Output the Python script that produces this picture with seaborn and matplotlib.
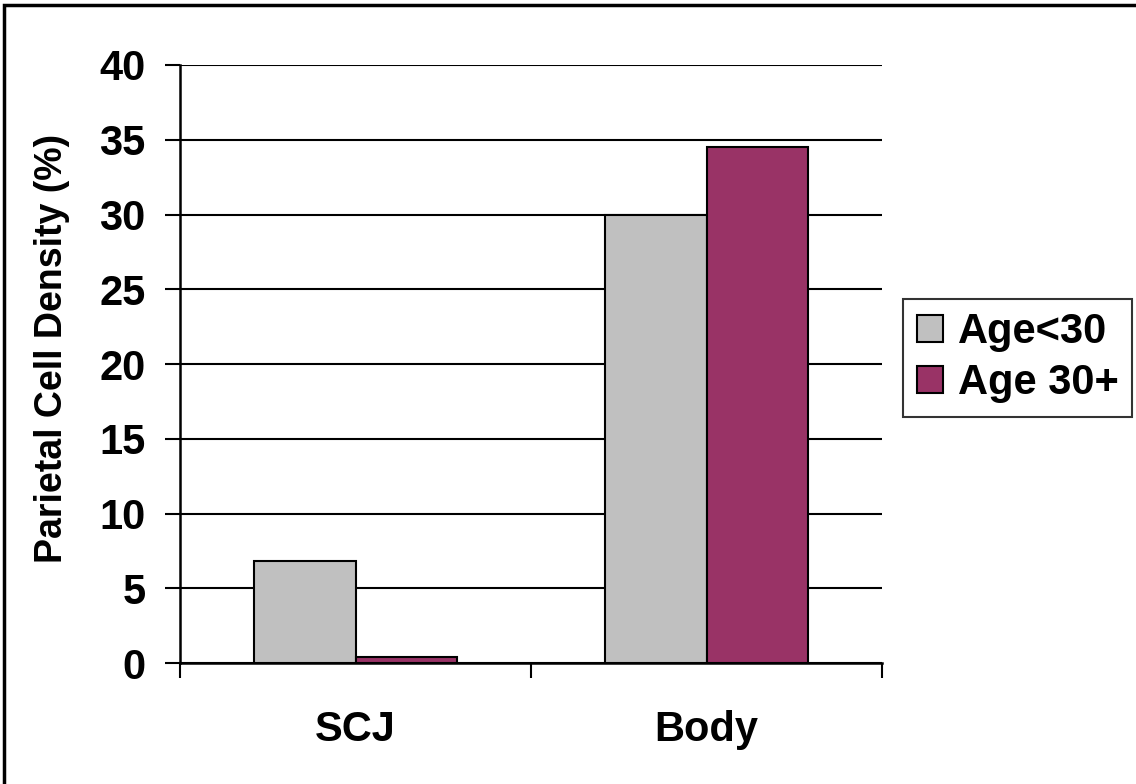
import numpy as np
import pandas as pd
import seaborn as sns
import matplotlib.pyplot as plt
from matplotlib.patches import Rectangle

# datos
sites = ['SCJ', 'Body']
groups = ['Age<30', 'Age 30+']
age_under_30 = [6.85, 30.0]
age_30_plus = [0.4, 34.5]
yticks = [0, 5, 10, 15, 20, 25, 30, 35, 40]

colors = ['#C0C0C0', '#993366']

df = pd.DataFrame({
    'site': sites * 2,
    'group': [groups[0]] * 2 + [groups[1]] * 2,
    'density': age_under_30 + age_30_plus,
})

sns.set_theme(style='white')
plt.rcParams['font.family'] = ['Liberation Sans', 'DejaVu Sans']
plt.rcParams['font.weight'] = 'bold'
plt.rcParams['text.color'] = 'black'
plt.rcParams['axes.labelcolor'] = 'black'
plt.rcParams['xtick.color'] = 'black'
plt.rcParams['ytick.color'] = 'black'

fig = plt.figure(figsize=(11.36, 7.84), dpi=100)
ax = fig.add_axes([0.1585, 0.1543, 0.6179, 0.7628])

sns.barplot(data=df, x='site', y='density', hue='group', order=sites,
            hue_order=groups, palette=colors, saturation=1, width=0.578,
            edgecolor='black', linewidth=1.5, ax=ax, zorder=3)

ax.set_ylim(0, 40)
ax.set_xlim(-0.5, 1.5)
ax.set_yticks(yticks)
ax.set_yticklabels([str(v) for v in yticks], fontsize=30, fontweight='bold')
ax.yaxis.grid(True, color='black', linewidth=1.5, zorder=0)
ax.set_axisbelow(True)

# ticks en los bordes de categoría, etiquetas en el centro
ax.set_xticks([-0.5, 0.5, 1.5])
ax.set_xticklabels(['', '', ''])
ax.set_xticks([0, 1], minor=True)
ax.set_xticklabels(sites, minor=True, fontsize=30, fontweight='bold')
ax.tick_params(axis='x', which='major', direction='out', length=11, width=1.5,
               color='black', bottom=True)
ax.tick_params(axis='x', which='minor', length=0, pad=34)
ax.tick_params(axis='y', direction='out', length=11, width=1.5, color='black',
               left=True, pad=14)

for s in ['top', 'right']:
    ax.spines[s].set_visible(False)
for s in ['left', 'bottom']:
    ax.spines[s].set_color('black')
    ax.spines[s].set_linewidth(1.8)

ax.set_xlabel('')
ax.set_ylabel('Parietal Cell Density (%)', fontsize=27, fontweight='bold')
ax.yaxis.set_label_coords(-0.157, 0.526)

ax.get_legend().remove()
handles = [Rectangle((0, 0), 1, 1, facecolor=c, edgecolor='black', linewidth=1.5)
           for c in colors]
leg = fig.legend(handles, groups, loc='upper left',
                 bbox_to_anchor=(0.795, 0.619), bbox_transform=fig.transFigure,
                 borderaxespad=0, fancybox=False, frameon=True,
                 prop={'size': 30, 'weight': 'bold'},
                 handlelength=0.62, handleheight=0.62, handletextpad=0.36,
                 borderpad=0.33, labelspacing=0.25)
leg.get_frame().set_edgecolor('black')
leg.get_frame().set_linewidth(1.5)

# marco exterior de la figura
fig.patches.append(Rectangle((4 / 1136, -0.1), 2, 0.9936 + 0.1,
                             transform=fig.transFigure, fill=False,
                             edgecolor='black', linewidth=2.5, clip_on=False))

fig.savefig('out.png', dpi=100)
